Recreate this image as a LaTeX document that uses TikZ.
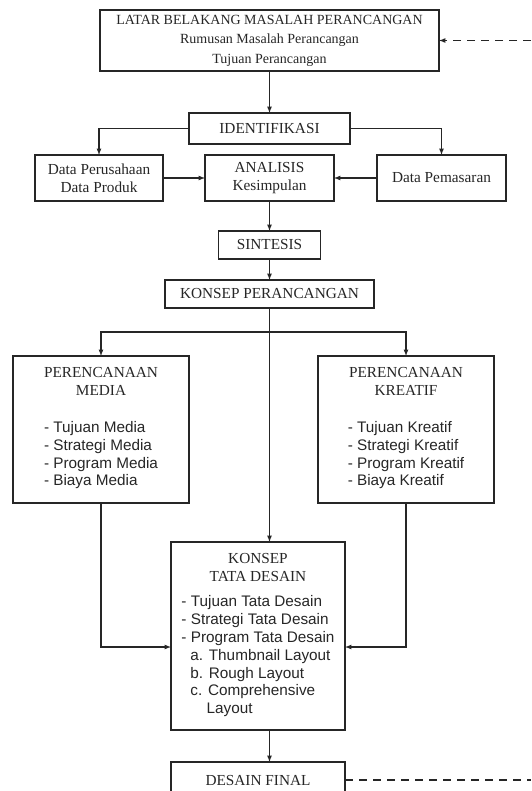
\documentclass[tikz,border=0pt]{standalone}
\usepackage{fontspec}
\setmainfont{Liberation Serif}
\setsansfont{Liberation Sans}
\usetikzlibrary{arrows}
\usetikzlibrary{positioning}

\begin{document}
\begin{tikzpicture}[
    >=latex,
    box/.style={draw=black!85, text=black!85, line width=1.2pt, inner sep=0pt, outer sep=0pt,
      align=center, font=\fontsize{15.3}{17.8}\selectfont},
    flow/.style={->, draw=black!85, line width=1.2pt},
    feedback/.style={draw=black!85, line width=1.2pt, dash pattern=on 8pt off 6pt},
  ]
  \useasboundingbox (0,0) rectangle (531pt,-791pt);
  \coordinate (rim) at (531pt,0);

  \node[box, minimum width=339pt, minimum height=61pt, font=\fontsize{14}{19.5}\selectfont]
    (latar) at (269.5pt,-40.5pt)
    {LATAR BELAKANG MASALAH PERANCANGAN\\Rumusan Masalah Perancangan\\Tujuan Perancangan};
  \node[box, below=42pt of latar, minimum width=161pt, minimum height=31pt] (ident) {IDENTIFIKASI};
  \node[box, below=11pt of ident, minimum width=129pt, minimum height=46pt] (analisis) {ANALISIS\\Kesimpulan};
  \node[box, left=42pt of analisis, minimum width=128pt, minimum height=46pt] (dataper) {Data Perusahaan\\Data Produk};
  \node[box, right=43pt of analisis, minimum width=129pt, minimum height=46pt] (datapem) {Data Pemasaran};
  \node[box, below=30pt of analisis, minimum width=102pt, minimum height=28pt] (sintesis) {SINTESIS};
  \node[box, below=21pt of sintesis, minimum width=209pt, minimum height=28pt] (konsep) {KONSEP PERANCANGAN};

  \node[box, below=48pt of konsep, xshift=-168.5pt, minimum width=176pt, minimum height=147pt] (media)
    {PERENCANAAN\\MEDIA\\[19pt]
     {\sffamily\begin{tabular}[t]{@{}l@{}}- Tujuan Media\\- Strategi Media\\- Program Media\\- Biaya Media\end{tabular}}};
  \node[box, below=48pt of konsep, xshift=136.5pt, minimum width=176pt, minimum height=147pt] (kreatif)
    {PERENCANAAN\\KREATIF\\[19pt]
     {\sffamily\begin{tabular}[t]{@{}l@{}}- Tujuan Kreatif\\- Strategi Kreatif\\- Program Kreatif\\- Biaya Kreatif\end{tabular}}};

  \node[box, below=39pt, xshift=-11.5pt, minimum width=174pt, minimum height=188pt] (tata)
    at (konsep |- media.south)
    {KONSEP\\TATA DESAIN\\[8pt]
     {\sffamily\begin{tabular}[t]{@{}l@{}}- Tujuan Tata Desain\\- Strategi Tata Desain\\- Program Tata Desain\\
       \hspace{9pt}a. Thumbnail Layout\\\hspace{9pt}b. Rough Layout\\\hspace{9pt}c. Comprehensive\\
       \hspace{9pt}\phantom{c.\ }Layout\end{tabular}}};
  \node[box, below=32pt of tata, minimum width=174pt, minimum height=36pt] (final) {DESAIN FINAL};

  % alur utama
  \draw[flow] (latar) -- (ident);
  \draw[flow] (ident.west) -| (dataper.north);
  \draw[flow] (ident.east) -| (datapem.north);
  \draw[flow] (dataper) -- (analisis);
  \draw[flow] (datapem) -- (analisis);
  \draw[flow] (analisis) -- (sintesis);
  \draw[flow] (sintesis) -- (konsep);

  \coordinate[below=24pt of konsep] (split);
  \draw[flow] (split) -| (media.north);
  \draw[flow] (konsep) -- (split) -| (kreatif.north);
  \draw[flow] (split) -- (split |- tata.north);
  \draw[flow] (media.south) |- ([yshift=-11pt]tata.west);
  \draw[flow] (kreatif.south) |- ([yshift=-11pt]tata.east);
  \draw[flow] (tata.south -| split) -- (final.north -| split);

  % umpan balik
  \draw[feedback, ->] (latar.east -| rim) -- (latar.east);
  \draw[feedback] (final.east) -- (final.east -| rim);
\end{tikzpicture}
\end{document}
